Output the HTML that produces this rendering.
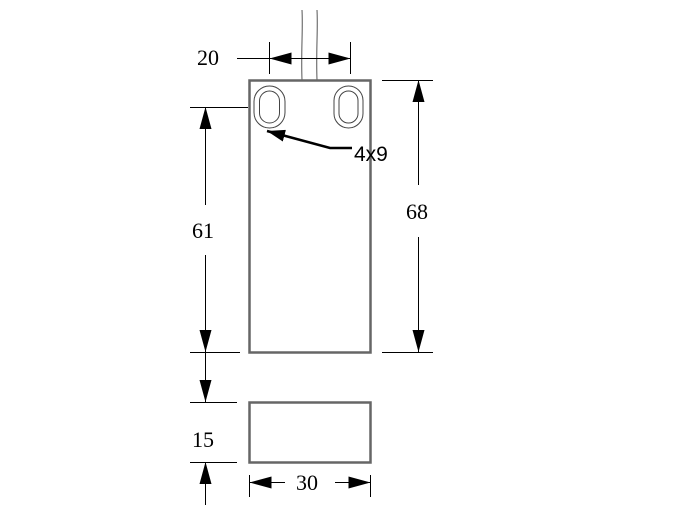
<!DOCTYPE html>
<html><head><style>body{margin:0;background:#fff}svg{display:block}</style></head><body>
<svg width="700" height="515" viewBox="0 0 700 515" xmlns="http://www.w3.org/2000/svg">
<defs>
<marker id="a" viewBox="0 0 22 12" refX="22" refY="6" markerWidth="22" markerHeight="12" markerUnits="userSpaceOnUse" orient="auto"><path d="M0,0L22,6L0,12z" fill="#000"/></marker>
<marker id="b" viewBox="0 0 18 12" refX="18" refY="6" markerWidth="18" markerHeight="12" markerUnits="userSpaceOnUse" orient="auto"><path d="M0,0L18,6L0,12z" fill="#000"/></marker>
</defs>
<g fill="none" stroke="#000" stroke-width="1">
<path d="M302,10 C303,30 301,50 302,80 M317,10 C318,30 316,50 317,80" stroke="#555"/>
<rect x="249.5" y="80.5" width="121" height="272" stroke="#666" stroke-width="2.5"/>
<rect x="249.5" y="402.5" width="121" height="60" stroke="#666" stroke-width="2.5"/>
<rect x="254" y="86" width="31" height="42" rx="15.5" stroke="#444"/>
<rect x="259.5" y="91" width="20" height="32" rx="10" stroke="#444"/>
<rect x="334" y="86" width="29" height="42" rx="14.5" stroke="#444"/>
<rect x="339" y="91" width="19" height="32" rx="9.5" stroke="#444"/>
<path d="M269.5,42V74M350.5,42V74M237,58.5H350"/>
<path d="M300,58.5H269.5" marker-end="url(#a)"/>
<path d="M320,58.5H350.5" marker-end="url(#a)"/>
<path d="M190,107.5H248M190,352.5H240M190,402.5H237M190,462.5H237"/>
<path d="M205.5,205V107" marker-end="url(#a)"/>
<path d="M205.5,255V352" marker-end="url(#a)"/>
<path d="M205.5,352V402" marker-end="url(#a)"/>
<path d="M205.5,505V462" marker-end="url(#a)"/>
<path d="M382,80.5H433M382,352.5H433"/>
<path d="M418.5,185V80" marker-end="url(#a)"/>
<path d="M418.5,237V352" marker-end="url(#a)"/>
<path d="M249.5,475V497M370.5,475V497"/>
<path d="M285,482.5H249.5" marker-end="url(#a)"/>
<path d="M335,482.5H370.5" marker-end="url(#a)"/>
<path d="M352,148H330L267,131" stroke-width="2.5" marker-end="url(#b)"/>
</g>
<g font-family="Liberation Serif, serif" font-size="22" fill="#000">
<text x="197" y="65">20</text>
<text x="192" y="238">61</text>
<text x="406" y="219">68</text>
<text x="192" y="447">15</text>
<text x="296" y="490">30</text>
</g>
<text x="354" y="161" font-family="Liberation Sans, sans-serif" font-size="21">4x9</text>
</svg>
</body></html>
